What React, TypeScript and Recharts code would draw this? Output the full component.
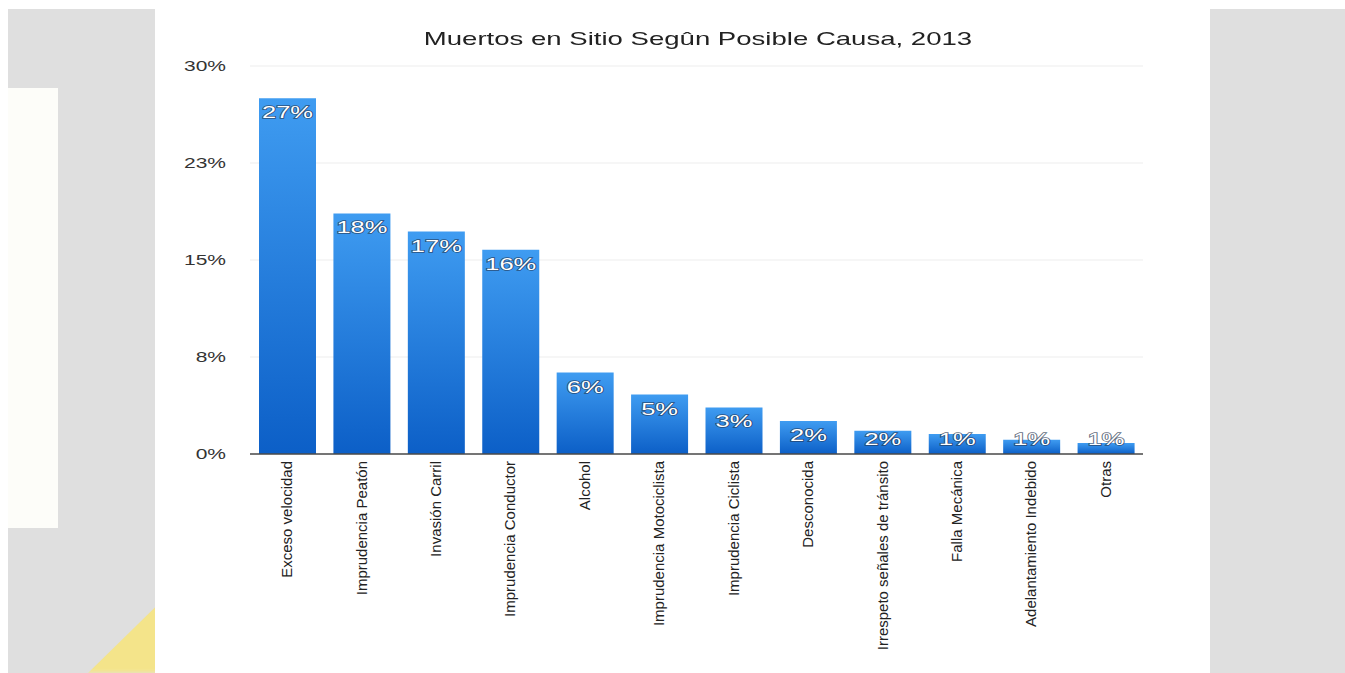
import React from 'react';
import { BarChart, Bar, XAxis, YAxis, CartesianGrid, LabelList } from 'recharts';

const categories = [
  'Exceso velocidad',
  'Imprudencia Peatón',
  'Invasión Carril',
  'Imprudencia Conductor',
  'Alcohol',
  'Imprudencia Motociclista',
  'Imprudencia Ciclista',
  'Desconocida',
  'Irrespeto señales de tránsito',
  'Falla Mecánica',
  'Adelantamiento Indebido',
  'Otras',
];
const values = [27.5, 18.6, 17.2, 15.8, 6.3, 4.6, 3.6, 2.55, 1.8, 1.55, 1.1, 0.85];
const valueLabels = ['27%', '18%', '17%', '16%', '6%', '5%', '3%', '2%', '2%', '1%', '1%', '1%'];
const yTicks = [0, 7.5, 15, 22.5, 30];
const title = 'Muertos en Sitio Segûn Posible Causa, 2013';

const data = categories.map((name, i) => ({ name, value: values[i], label: valueLabels[i] }));

const FONT = '"Liberation Sans", Arial, Helvetica, sans-serif';

const XTick = (props: any) => {
  const { x, y, payload } = props;
  return (
    <g transform={`translate(${x},${y})`}>
      <text
        transform="rotate(-90)"
        x={-5}
        y={5}
        textAnchor="end"
        fontSize={15}
        fontFamily={FONT}
        fill="#222"
      >
        {payload.value}
      </text>
    </g>
  );
};

const YTick = (props: any) => {
  const { y, payload } = props;
  return (
    <g transform={`translate(226,${y + 5}) scale(1.5,1)`}>
      <text x={0} y={0} textAnchor="end" fontSize={14} fontFamily={FONT} fill="#333">
        {`${Math.round(payload.value)}%`}
      </text>
    </g>
  );
};

const BarLabel = (props: any) => {
  const x = Number(props.x);
  const y = Number(props.y);
  const width = Number(props.width);
  const height = Number(props.height);
  const cx = x + width / 2;
  const by = Math.min(y + 20, y + height - 9);
  return (
    <g transform={`translate(${cx},${by}) scale(1.5,1)`}>
      <text
        x={0}
        y={0}
        textAnchor="middle"
        fontSize={17}
        fontFamily={FONT}
        fill="#ffffff"
        stroke="rgba(35,50,75,0.7)"
        strokeWidth={1.5}
        paintOrder="stroke"
      >
        {props.value}
      </text>
    </g>
  );
};

export default function App() {
  return (
    <div
      style={{
        position: 'absolute',
        left: 0,
        top: 0,
        width: 1345,
        height: 673,
        background: '#ffffff',
        overflow: 'hidden',
      }}
    >
      <div style={{ position: 'absolute', left: 8, top: 9, width: 1337, height: 664, background: '#dfdfdf' }} />
      <div style={{ position: 'absolute', left: 8, top: 88, width: 50, height: 440, background: '#fdfdf9' }} />
      <div
        style={{
          position: 'absolute',
          left: 80,
          top: 590,
          width: 80,
          height: 83,
          background: '#f4e48a',
          clipPath: 'polygon(100% 15%, 100% 100%, 10% 100%)',
          filter: 'blur(2px)',
        }}
      />
      <div style={{ position: 'absolute', left: 155, top: 9, width: 1055, height: 664, background: '#ffffff' }} />
      <div
        style={{
          position: 'absolute',
          left: 398,
          top: 29,
          width: 600,
          textAlign: 'center',
          fontFamily: FONT,
          fontSize: 19,
          lineHeight: '19px',
          color: '#222',
          transform: 'scaleX(1.45)',
          whiteSpace: 'nowrap',
        }}
      >
        {title}
      </div>
      <div style={{ position: 'absolute', left: 0, top: 0 }}>
        <BarChart
          width={1345}
          height={673}
          data={data}
          margin={{ top: 66, right: 202, left: 190, bottom: 19 }}
        >
          <defs>
            <linearGradient id="barGrad" x1="0" y1="0" x2="0" y2="1">
              <stop offset="0%" stopColor="#3f9cf1" />
              <stop offset="100%" stopColor="#0c5fc7" />
            </linearGradient>
          </defs>
          <CartesianGrid vertical={false} stroke="#ededed" strokeWidth={1} />
          <XAxis
            dataKey="name"
            interval={0}
            height={200}
            tickLine={false}
            tickSize={0}
            tickMargin={2}
            axisLine={{ stroke: '#4a4a4a', strokeWidth: 1.5 }}
            tick={<XTick />}
          />
          <YAxis
            width={60}
            domain={[0, 30]}
            ticks={yTicks}
            axisLine={false}
            tickLine={false}
            tick={<YTick />}
          />
          <Bar dataKey="value" fill="url(#barGrad)" barSize={57} isAnimationActive={false}>
            <LabelList dataKey="label" content={<BarLabel />} />
          </Bar>
        </BarChart>
      </div>
    </div>
  );
}
